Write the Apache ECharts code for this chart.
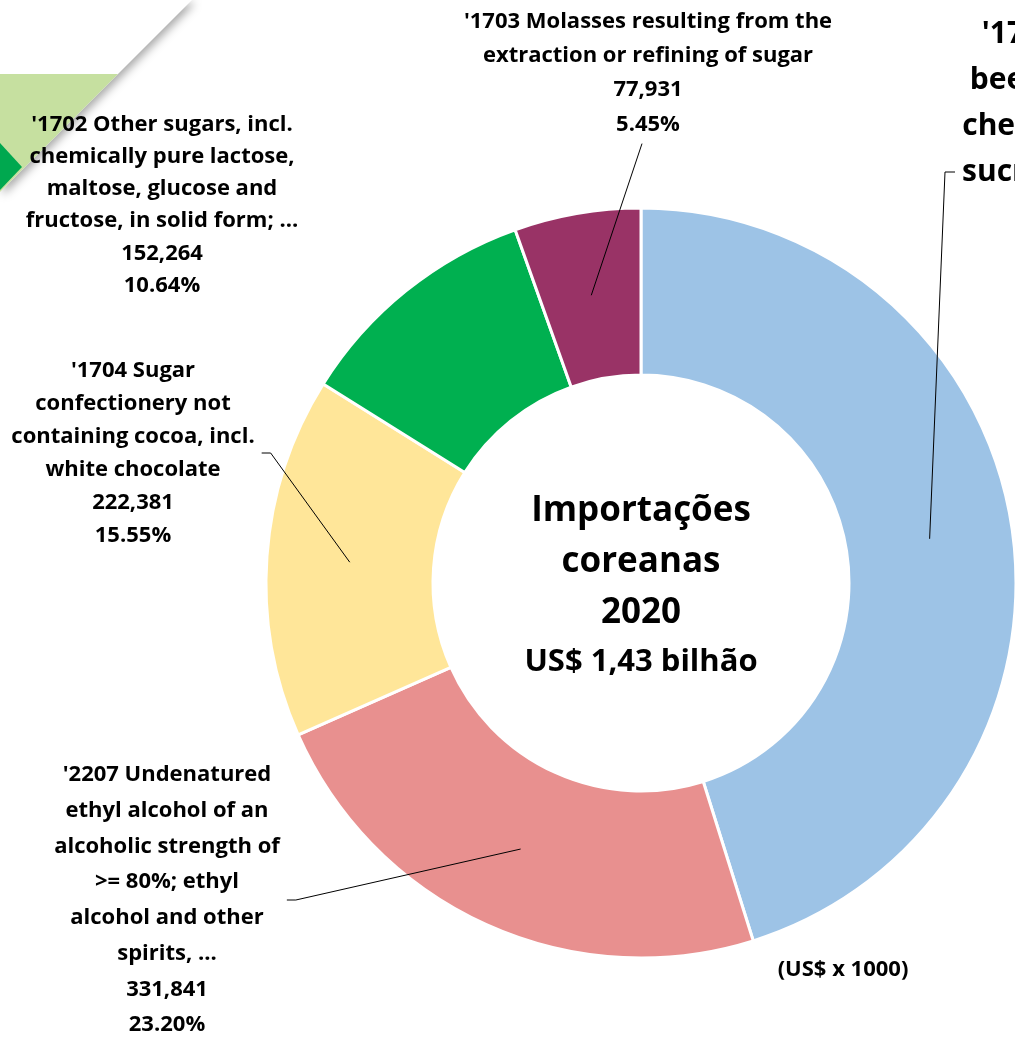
<!DOCTYPE html>
<html>
<head>
<meta charset="utf-8">
<script src="https://cdn.jsdelivr.net/npm/echarts@6/dist/echarts.min.js"></script>
<style>
  html, body { margin: 0; padding: 0; background: #fff; }
  #chart { width: 1015px; height: 1037px; }
</style>
</head>
<body>
<div id="chart"></div>
<script>
// dados (US$ x 1000), ordem horaria a partir do topo
const names = [
  "'1701 Cane or\nbeet sugar and\nchemically pure\nsucrose, in solid\nform",
  "'2207 Undenatured\nethyl alcohol of an\nalcoholic strength of\n>= 80%; ethyl\nalcohol and other\nspirits, ...",
  "'1704 Sugar\nconfectionery not\ncontaining cocoa, incl.\nwhite chocolate",
  "'1702 Other sugars, incl.\nchemically pure lactose,\nmaltose, glucose and\nfructose, in solid form; ...",
  "'1703 Molasses resulting from the\nextraction or refining of sugar"
];
const values = [646053, 331841, 222381, 152264, 77931];
const colors = ['#9DC3E6', '#E8908F', '#FFE699', '#00B050', '#993366'];

// onde fica cada rotulo (centro do bloco; para o 1701 x = borda esquerda)
const labelPos = [
  { x: 962, y: 172, side: 'left', size: 30, lh: 46 },
  { x: 167, y: 900, side: 'right', size: 22, lh: 35.7 },
  { x: 133, y: 453, side: 'right', size: 22, lh: 33 },
  { x: 162, y: 205, side: 'none', size: 22, lh: 32.3 },
  { x: 648, y: 73, side: 'bottom', size: 22, lh: 34.3 }
];

const FONT = 'Open Sans';
const center = [641, 583];
const anchorR = 292; // raio onde as linhas-guia comecam (meio do anel)

const chart = echarts.init(document.getElementById('chart'));

const total = values.reduce((s, v) => s + v, 0);
// angulo do meio de cada fatia (startAngle 90, sentido horario)
const midAngles = [];
let acc = 0;
values.forEach(v => {
  midAngles.push((90 - 360 * (acc + v / 2) / total) * Math.PI / 180);
  acc += v;
});

const ringData = values.map((v, i) => ({ name: names[i], value: v, itemStyle: { color: colors[i] } }));
const labelData = values.map((v, i) => ({
  name: names[i],
  value: v,
  label: { fontSize: labelPos[i].size, lineHeight: labelPos[i].lh },
  labelLine: { show: labelPos[i].side !== 'none' }
}));

const option = {
  animation: false,
  backgroundColor: '#fff',
  graphic: [
    {
      type: 'polygon', z: 0,
      shape: { points: [[0, 0], [192, 0], [0, 192]] },
      style: { fill: '#fff', shadowBlur: 10, shadowColor: 'rgba(0,0,0,0.35)', shadowOffsetX: 3, shadowOffsetY: 3 }
    },
    { type: 'polygon', z: 0, shape: { points: [[0, 74], [118, 74], [0, 192]] }, style: { fill: '#C6E0A0' } },
    { type: 'polygon', z: 0, shape: { points: [[0, 143], [22, 167], [0, 190]] }, style: { fill: '#00A84F' } },
    {
      type: 'text', z: 100, x: center[0], y: 562,
      style: {
        text: 'Importações\ncoreanas\n2020', fill: '#000', fontFamily: FONT, fontWeight: 'bold',
        fontSize: 35, lineHeight: 51, textAlign: 'center', textVerticalAlign: 'middle'
      }
    },
    {
      type: 'text', z: 100, x: center[0], y: 662,
      style: {
        text: 'US$ 1,43 bilhão', fill: '#000', fontFamily: FONT, fontWeight: 'bold',
        fontSize: 31, textAlign: 'center', textVerticalAlign: 'middle'
      }
    },
    {
      type: 'text', z: 100, x: 843, y: 970,
      style: {
        text: '(US$ x 1000)', fill: '#000', fontFamily: FONT, fontWeight: 'bold',
        fontSize: 22, textAlign: 'center', textVerticalAlign: 'middle'
      }
    }
  ],
  series: [
    {
      type: 'pie',
      silent: true,
      z: 2,
      center: center,
      radius: [208, 375],
      startAngle: 90,
      label: { show: false },
      labelLine: { show: false },
      itemStyle: { borderColor: '#fff', borderWidth: 3 },
      data: ringData
    },
    {
      // serie invisivel por cima, so para carregar os rotulos e as linhas
      type: 'pie',
      silent: true,
      z: 5,
      center: center,
      radius: [0, anchorR],
      startAngle: 90,
      avoidLabelOverlap: false,
      itemStyle: { color: 'rgba(0,0,0,0)' },
      label: {
        show: true,
        position: 'outside',
        color: '#000',
        fontFamily: FONT,
        fontWeight: 'bold',
        formatter: p => p.name + '\n' + p.value.toLocaleString('en-US') + '\n' + p.percent.toFixed(2) + '%'
      },
      labelLine: { show: true, length: 10, length2: 10, lineStyle: { color: '#000', width: 1 } },
      labelLayout: function (p) {
        const i = p.dataIndex;
        const pos = labelPos[i];
        const w = p.labelRect.width, h = p.labelRect.height;
        const cx = pos.side === 'left' ? pos.x + w / 2 : pos.x;
        const a = [center[0] + anchorR * Math.cos(midAngles[i]), center[1] - anchorR * Math.sin(midAngles[i])];
        let pts = null;
        if (pos.side === 'right') {
          const ex = cx + w / 2 + 7;
          pts = [a, [ex + 9, pos.y], [ex, pos.y]];
        } else if (pos.side === 'left') {
          const ex = cx - w / 2 - 7;
          pts = [a, [ex - 10, pos.y], [ex, pos.y]];
        } else if (pos.side === 'bottom') {
          const e = [cx - 6, pos.y + h / 2 + 2];
          pts = [a, e, e];
        }
        const out = { x: cx, y: pos.y, align: 'center', verticalAlign: 'middle' };
        if (pts) out.labelLinePoints = pts;
        return out;
      },
      data: labelData
    }
  ]
};

chart.setOption(option);
</script>
</body>
</html>
